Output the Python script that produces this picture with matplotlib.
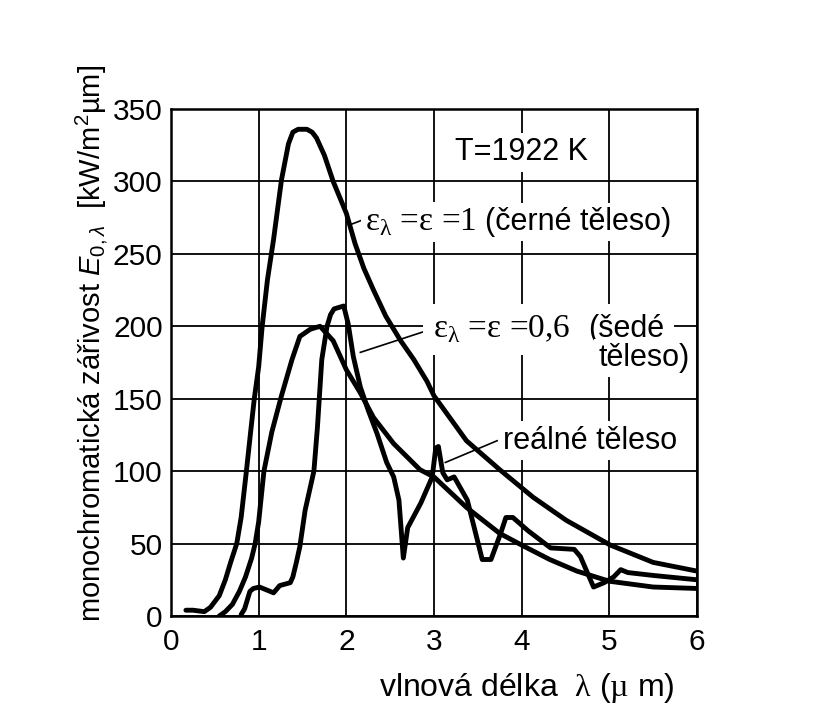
import matplotlib
matplotlib.use('Agg')
import matplotlib.pyplot as plt

plt.rcParams['font.family'] = ['Liberation Sans', 'DejaVu Sans']
plt.rcParams['mathtext.fontset'] = 'custom'
plt.rcParams['mathtext.rm'] = 'Liberation Serif'
plt.rcParams['mathtext.it'] = 'Liberation Sans:italic'
plt.rcParams['mathtext.sf'] = 'Liberation Sans'

# cerne teleso (eps = 1)
lam_cerne = [0.17, 0.25, 0.38, 0.45, 0.55, 0.62, 0.68, 0.75, 0.80, 0.86, 0.91, 0.95,
             1.00, 1.04, 1.10, 1.17, 1.26, 1.34, 1.39, 1.45, 1.55, 1.61, 1.66, 1.75,
             1.85, 2.00, 2.10, 2.20, 2.31, 2.45, 2.62, 2.77, 2.92, 3.00, 3.37, 3.75,
             4.13, 4.51, 5.01, 5.50, 6.00]
E_cerne = [4, 4, 3, 6, 14, 25, 37, 50, 68, 100, 128, 150,
           172, 200, 232, 260, 301, 326, 334, 336, 336, 334, 330, 318,
           300, 278, 257, 240, 225, 207, 190, 177, 162, 152, 121, 101,
           82, 66, 49, 37, 31]

# sede teleso (eps = 0,6)
lam_sede = [0.55, 0.62, 0.70, 0.78, 0.85, 0.92, 0.96, 1.00, 1.06, 1.15, 1.26, 1.38,
            1.47, 1.59, 1.70, 1.85, 2.00, 2.16, 2.31, 2.54, 2.84, 3.00, 3.37, 3.75,
            4.03, 4.32, 4.63, 5.00, 5.50, 6.00]
E_sede = [0, 3, 8, 17, 27, 40, 50, 65, 100, 127, 152, 177,
          193, 198, 200, 190, 170, 154, 137, 119, 101, 96, 75, 57,
          48, 39, 31, 24, 20, 19]

# realne teleso
lam_real = [0.80, 0.84, 0.90, 0.94, 1.01, 1.09, 1.17, 1.24, 1.36, 1.39, 1.43, 1.47,
            1.53, 1.63, 1.67, 1.72, 1.78, 1.82, 1.86, 1.97, 2.02, 2.08, 2.16, 2.25,
            2.35, 2.46, 2.54, 2.60, 2.65, 2.70, 2.85, 2.98, 3.02, 3.05, 3.10, 3.15,
            3.23, 3.38, 3.55, 3.65, 3.76, 3.82, 3.90, 4.07, 4.33, 4.60, 4.67, 4.82,
            4.94, 5.05, 5.13, 5.21, 5.50, 6.00]
E_real = [1, 5, 17, 19, 20, 18, 16, 21, 23, 27, 37, 48,
          73, 100, 130, 177, 200, 208, 212, 214, 202, 179, 158, 142,
          126, 106, 96, 80, 40, 61, 78, 96, 116, 117, 99, 94,
          96, 80, 39, 39, 57, 68, 68, 59, 47, 46, 41, 20,
          23, 27, 32, 30, 28, 25]

fig = plt.figure(figsize=(8.19, 7.19), dpi=100)
ax = fig.add_axes([171 / 819, 1 - 616 / 719, 526 / 819, 507 / 719])

lw = 3.5
for lam, E in [(lam_cerne, E_cerne), (lam_sede, E_sede), (lam_real, E_real)]:
    ax.plot(lam, E, color='black', lw=lw, solid_capstyle='round', solid_joinstyle='round')

ax.set_xlim(0, 6)
ax.set_ylim(0, 350)
ax.set_xticks(range(0, 7))
ax.set_yticks(range(0, 351, 50))
ax.grid(True, color='black', lw=1.3)
ax.set_axisbelow(True)
for s in ax.spines.values():
    s.set_linewidth(1.8)
ax.tick_params(axis='both', length=0, labelsize=21.5)
ax.tick_params(axis='x', pad=9)
ax.tick_params(axis='y', pad=6)

box = dict(facecolor='white', edgecolor='none', pad=3)
box2 = dict(facecolor='white', edgecolor='none', pad=7)

ax.text(4.0, 320, 'T=1922 K', fontsize=22, ha='center', va='center', bbox=box)

# popisky krivek
ax.text(2.21, 272, r'ε$_{\mathrm{λ}}$ =ε =1', family='Liberation Serif', fontsize=24,
        ha='left', va='center', bbox=box)
ax.text(3.58, 272, '(černé těleso)', fontsize=22, ha='left', va='center', bbox=box)
ax.plot([2.06, 2.19], [270.5, 273.5], color='black', lw=1.2)

ax.text(2.99, 198, r'ε$_{\mathrm{λ}}$ =ε =0,6', family='Liberation Serif', fontsize=24,
        ha='left', va='center', bbox=box2)
ax.text(4.76, 198, '(šedé', fontsize=22, ha='left', va='center', bbox=box2)
ax.text(5.92, 178, 'těleso)', fontsize=22, ha='right', va='center', bbox=box)
ax.plot([2.16, 2.92], [182, 197], color='black', lw=1.2)

ax.text(3.79, 121, 'reálné těleso', fontsize=22, ha='left', va='center', bbox=box)
ax.plot([3.13, 3.72], [106, 121], color='black', lw=1.2)

ax.text(0.677, -0.142, r'vlnová délka  $\mathrm{λ}$ ($\mathrm{µ}$ m)', fontsize=23,
        ha='center', va='center', transform=ax.transAxes)
ax.text(-0.15, 0.538, r'monochromatická zářivost $E_{\mathsf{0,}λ}$  [kW/m$^{\mathsf{2}}$µm]',
        fontsize=21, rotation=90, ha='center', va='center', transform=ax.transAxes)

fig.savefig('out.png', dpi=100, facecolor='white')
